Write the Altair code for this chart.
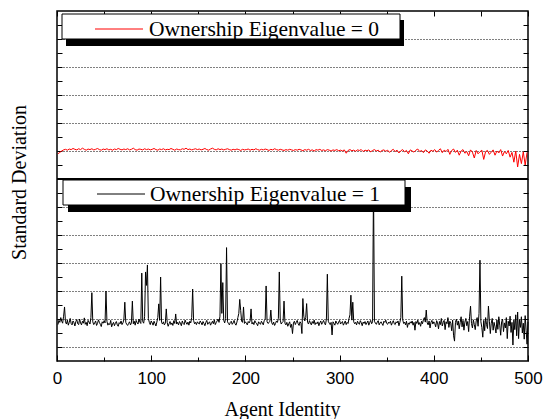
import altair as alt
import pandas as pd

# ---------------- data ----------------
black_agents = list(range(1, 501))
black_sd = [
    0.80, 0.95, 0.88, 1.05, 0.92, 0.85, 1.10, 1.43, 0.90, 0.82, 0.96, 0.78, 0.88, 1.02, 0.84, 0.79, 0.93, 0.87, 0.75, 0.91, 0.98, 0.83, 0.80, 1.00, 0.86,
    0.79, 0.92, 0.85, 1.04, 0.81, 0.88, 0.76, 0.95, 0.89, 0.82, 1.05, 1.94, 0.90, 0.80, 0.86, 0.93, 0.77, 0.84, 0.97, 0.88, 0.81, 0.73, 0.90, 0.85, 0.94,
    0.86, 2.00, 0.92, 0.78, 0.84, 0.80, 0.95, 0.72, 0.82, 0.88, 0.76, 0.85, 0.91, 0.79, 0.74, 0.87, 0.83, 0.93, 0.80, 0.86, 0.98, 1.60, 0.88, 0.81, 0.77,
    0.84, 0.90, 0.79, 0.86, 1.64, 0.83, 0.92, 0.78, 0.95, 0.87, 0.82, 1.00, 0.89, 0.84, 2.64, 0.91, 0.85, 1.08, 2.68, 2.20, 2.93, 1.02, 0.88, 0.80, 0.93,
    0.86, 0.78, 0.92, 0.84, 0.75, 0.89, 1.05, 1.54, 0.95, 2.50, 0.88, 0.82, 0.90, 0.79, 0.85, 1.36, 0.87, 0.74, 0.83, 0.91, 0.80, 0.86, 0.77, 0.94, 0.84,
    1.18, 0.82, 0.88, 0.79, 0.91, 0.85, 0.76, 0.93, 0.84, 0.80, 0.96, 0.87, 0.81, 0.89, 0.78, 0.92, 0.86, 1.05, 2.07, 0.95, 0.83, 0.88, 0.80, 0.90, 0.85,
    0.82, 0.93, 0.87, 0.79, 0.91, 0.84, 0.76, 0.88, 0.95, 0.81, 0.86, 0.90, 0.78, 0.85, 0.92, 0.83, 0.97, 0.80, 0.87, 0.93, 1.00, 0.88, 1.10, 2.98, 1.20,
    2.30, 0.95, 0.86, 1.02, 3.55, 0.90, 0.84, 0.79, 0.88, 0.92, 0.81, 0.86, 0.95, 0.83, 0.78, 0.89, 1.05, 1.20, 1.70, 1.30, 0.92, 0.88, 1.43, 0.84, 0.90,
    0.85, 0.79, 0.91, 0.86, 0.93, 1.36, 0.82, 0.88, 0.80, 0.94, 0.87, 0.83, 0.76, 0.90, 0.85, 0.81, 0.92, 0.86, 0.79, 0.95, 0.98, 2.18, 0.90, 0.84, 0.87,
    0.92, 1.32, 0.86, 0.80, 0.89, 0.77, 0.84, 0.93, 0.88, 1.02, 2.68, 0.96, 0.82, 0.87, 0.91, 1.64, 0.85, 0.79, 0.88, 0.74, 0.83, 0.90, 0.70, 0.81, 0.48,
    0.86, 0.92, 0.80, 0.88, 0.95, 0.83, 0.77, 0.90, 0.85, 0.48, 1.73, 1.10, 0.93, 1.05, 1.55, 0.88, 0.82, 0.94, 0.86, 0.79, 0.91, 0.84, 0.96, 0.80, 0.87,
    0.83, 0.90, 0.76, 0.86, 0.93, 0.81, 0.88, 0.95, 0.84, 0.79, 1.00, 2.60, 0.92, 0.85, 0.80, 0.88, 0.43, 0.90, 0.84, 0.78, 0.93, 0.86, 0.81, 0.89, 0.95,
    0.82, 0.87, 0.91, 0.78, 0.85, 0.93, 0.80, 0.88, 0.84, 1.02, 1.15, 1.85, 0.96, 1.60, 0.90, 0.83, 0.88, 0.79, 0.92, 0.85, 0.81, 0.94, 0.87, 0.76, 0.89,
    0.84, 0.91, 0.80, 0.86, 0.93, 0.78, 0.88, 0.95, 0.83, 0.90, 5.80, 0.92, 0.85, 0.81, 0.89, 0.94, 0.79, 0.86, 0.90, 0.83, 0.77, 0.92, 0.88, 0.96, 0.84,
    0.81, 0.89, 0.85, 0.92, 0.78, 0.87, 0.94, 0.83, 0.80, 0.90, 0.86, 0.93, 0.76, 0.88, 1.05, 2.53, 0.97, 0.84, 0.89, 0.79, 0.92, 0.70, 0.86, 0.81, 0.90,
    0.85, 0.93, 0.78, 0.88, 0.60, 0.91, 0.84, 0.96, 0.80, 0.87, 0.74, 0.92, 0.83, 0.98, 1.05, 0.89, 1.32, 0.86, 0.79, 0.93, 0.68, 0.88, 0.95, 0.82, 0.90,
    0.84, 0.72, 0.94, 0.86, 0.65, 0.91, 0.80, 1.02, 0.75, 0.88, 0.95, 0.62, 0.90, 0.83, 1.05, 0.70, 0.92, 0.85, 0.58, 0.96, 0.40, 0.21, 0.88, 1.00, 0.78,
    0.93, 0.65, 0.87, 1.08, 0.72, 0.95, 0.60, 0.89, 1.02, 0.76, 0.91, 0.55, 1.10, 1.46, 0.84, 0.68, 0.97, 0.80, 0.62, 0.93, 1.05, 0.74, 1.20, 3.10, 0.90,
    0.70, 0.35, 0.95, 0.58, 1.05, 0.80, 0.66, 1.46, 0.92, 0.48, 0.85, 1.02, 0.60, 0.88, 0.72, 0.50, 0.97, 0.63, 1.08, 0.78, 0.42, 0.90, 1.00, 0.55, 0.86,
    0.68, 1.05, 0.30, 0.92, 0.75, 1.10, 0.52, 0.88, 0.07, 0.96, 0.62, 1.15, 0.40, 1.25, 0.30, 0.98, 0.70, 1.08, 0.50, 0.85, 0.28, 1.12, 0.60, 0.10, 0.90,
]

red_agents = list(range(1, 500, 2))
red_sd = [
    0.90, 0.95, 1.00, 1.04, 1.06, 1.03, 1.07, 1.05, 1.09, 1.06, 1.04, 1.08, 1.05, 1.10, 1.06, 1.03, 1.07, 1.05, 1.08, 1.04, 1.06, 1.09, 1.05, 1.03, 1.07,
    1.05, 1.08, 1.04, 1.06, 1.03, 1.07, 1.05, 1.09, 1.06, 1.04, 1.07, 1.05, 1.08, 1.04, 1.06, 1.10, 1.05, 1.03, 1.07, 1.06, 1.04, 1.08, 1.05, 1.07, 1.04,
    1.06, 1.09, 1.05, 1.03, 1.07, 1.05, 1.08, 1.04, 1.06, 1.05, 1.09, 1.06, 1.03, 1.07, 1.05, 1.04, 1.08, 1.06, 1.10, 1.05, 1.07, 1.04, 1.06, 1.08, 1.05,
    1.07, 1.04, 1.06, 1.09, 1.05, 1.03, 1.07, 1.10, 1.06, 1.04, 1.08, 1.05, 1.07, 1.04, 1.06, 1.08, 1.05, 1.03, 1.06, 1.04, 1.07, 1.05, 1.02, 1.06, 1.04,
    1.05, 1.07, 1.03, 1.06, 1.04, 1.08, 1.05, 1.03, 1.06, 1.04, 1.07, 1.05, 1.02, 1.06, 1.04, 1.08, 1.05, 1.03, 1.06, 1.04, 1.02, 1.05, 1.03, 1.06, 1.04,
    1.02, 1.05, 1.03, 1.06, 1.04, 1.01, 1.05, 1.03, 1.06, 1.02, 1.04, 1.00, 1.05, 1.03, 1.06, 1.02, 1.04, 1.01, 1.05, 1.03, 1.00, 1.04, 1.02, 1.05, 1.01,
    1.03, 1.00, 1.04, 0.92, 1.02, 1.05, 1.01, 1.03, 0.99, 1.04, 1.02, 1.05, 0.98, 1.03, 1.01, 1.04, 0.97, 1.02, 1.05, 1.00, 1.03, 0.96, 1.02, 1.04, 0.99,
    1.03, 0.95, 1.02, 1.06, 0.98, 1.03, 0.93, 1.01, 1.05, 0.97, 1.02, 0.90, 1.04, 1.00, 0.96, 1.03, 1.07, 0.98, 1.02, 0.94, 1.04, 1.00, 0.92, 1.03, 0.99,
    1.05, 0.96, 1.02, 1.08, 0.94, 1.03, 0.98, 1.06, 0.88, 1.02, 1.07, 0.95, 1.03, 0.85, 1.00, 1.05, 0.92, 0.98, 0.83, 1.04, 0.96, 0.75, 1.02, 0.90, 0.97,
    1.03, 0.70, 0.98, 1.02, 0.88, 0.96, 1.04, 0.85, 1.00, 0.93, 1.05, 0.82, 0.98, 0.90, 1.02, 0.78, 0.95, 0.60, 1.00, 0.43, 0.88, 0.55, 0.97, 0.50, 0.95,
]

x_labels = [0, 100, 200, 300, 400, 500]
top_grid = [1, 2, 3, 4, 5]          # top panel grid levels
bottom_grid = [0, 1, 2, 3, 4, 5]    # bottom panel grid levels
legend_top = ["Ownership Eigenvalue = 0"]
legend_bottom = ["Ownership Eigenvalue = 1"]

# ---------------- chart ----------------
SERIF = "Liberation Serif"
SANS = "Liberation Sans"
TOP_SHIFT = 6  # the upper panel sits 6 units above the lower panel's zero

df_red = pd.DataFrame({"agent": red_agents, "sd": red_sd})
df_black = pd.DataFrame({"agent": black_agents, "sd": black_sd})
df_sep = pd.DataFrame({"level": [TOP_SHIFT]})

xscale = alt.Scale(domain=[0, 500], nice=False, zero=False)
yscale = alt.Scale(domain=[-0.5, 12], nice=False, zero=False)

grid_levels = bottom_grid + [g + TOP_SHIFT for g in top_grid]
half_levels = [0.5 * k for k in range(0, 24)]


def tick_axis(orient, values, size):
    return alt.Axis(orient=orient, values=values, tickSize=size, offset=-size,
                    labels=False, domain=False, grid=False, title=None,
                    ticks=True, tickColor="black", tickWidth=1, minExtent=0)


def legend_layers(df, color, box, shadow, sample, text_pos):
    sh = alt.Chart(df).mark_rect(color="black").encode(
        x=alt.value(shadow[0]), x2=alt.value(shadow[1]),
        y=alt.value(shadow[2]), y2=alt.value(shadow[3]))
    bx = alt.Chart(df).mark_rect(fill="white", stroke="black", strokeWidth=1).encode(
        x=alt.value(box[0]), x2=alt.value(box[1]),
        y=alt.value(box[2]), y2=alt.value(box[3]))
    ln = alt.Chart(df).mark_rule(color=color, strokeWidth=1).encode(
        x=alt.value(sample[0]), x2=alt.value(sample[1]), y=alt.value(sample[2]))
    tx = alt.Chart(df).mark_text(align="left", baseline="alphabetic", font=SERIF,
                                 fontSize=21.5, color="black").encode(
        x=alt.value(text_pos[0]), y=alt.value(text_pos[1]), text="label:N")
    return [sh, bx, ln, tx]


black_line = alt.Chart(df_black).mark_line(color="black", strokeWidth=1).encode(
    x=alt.X("agent:Q", scale=xscale,
            axis=alt.Axis(orient="bottom", values=x_labels, ticks=False, domain=False,
                          grid=False, labelFont=SANS, labelFontSize=17,
                          labelColor="black", labelPadding=9, format="d",
                          labelFlush=False,
                          title="Agent Identity", titleFont=SERIF, titleFontSize=20,
                          titleFontWeight="normal", titleColor="black",
                          titleX=225, titleY=54, titleBaseline="alphabetic",
                          titleAlign="center")),
    y=alt.Y("sd:Q", scale=yscale,
            axis=alt.Axis(orient="left", values=grid_levels, ticks=False, labels=False,
                          domain=False, grid=True, gridColor="black",
                          gridDash=[1, 2], gridWidth=1, minExtent=0,
                          title="Standard Deviation", titleFont=SERIF,
                          titleFontSize=20, titleFontWeight="normal",
                          titleColor="black", titleX=-32, titleY=171,
                          titleBaseline="alphabetic", titleAlign="center",
                          titleAngle=270)),
)

red_line = alt.Chart(df_red).transform_calculate(
    shifted=f"datum.sd + {TOP_SHIFT}"
).mark_line(color="#ff0000", strokeWidth=1).encode(
    x=alt.X("agent:Q", scale=xscale, axis=tick_axis("top", list(range(0, 501, 50)), 5)),
    y=alt.Y("shifted:Q", scale=yscale, axis=tick_axis("left", half_levels, 5)),
)

ghost_a = alt.Chart(df_black).mark_line(opacity=0).encode(
    x=alt.X("agent:Q", scale=xscale, axis=tick_axis("bottom", x_labels, 6)),
    y=alt.Y("sd:Q", scale=yscale, axis=tick_axis("right", half_levels, 5)),
)
ghost_b = alt.Chart(df_black).mark_line(opacity=0).encode(
    x=alt.X("agent:Q", scale=xscale, axis=tick_axis("bottom", list(range(50, 500, 100)), 4)),
    y=alt.Y("sd:Q", scale=yscale, axis=None),
)

separator = alt.Chart(df_sep).mark_rule(color="black", strokeWidth=2).encode(
    y=alt.Y("level:Q", scale=yscale, axis=None),
)

df_lt = pd.DataFrame({"label": legend_top})
df_lb = pd.DataFrame({"label": legend_bottom})

chart = alt.layer(
    black_line, red_line, ghost_a, ghost_b, separator,
    *legend_layers(df_lt, "#ff0000", (5, 343, 3, 28), (9, 347, 9, 35), (38, 86, 18), (92, 25)),
    *legend_layers(df_lb, "black", (6, 348, 169, 194), (11, 354, 176, 201), (40, 88, 183), (93, 190)),
).resolve_axis(
    x="independent", y="independent"
).properties(
    width=544, height=419,
    autosize=alt.AutoSizeParams(type="fit", contains="padding"),
    padding={"left": 9, "top": 10, "right": 1, "bottom": 0},
    background="white",
).configure_view(stroke="black", strokeWidth=1.5)

chart.save("out.html", embed_options={"renderer": "svg", "actions": False})
